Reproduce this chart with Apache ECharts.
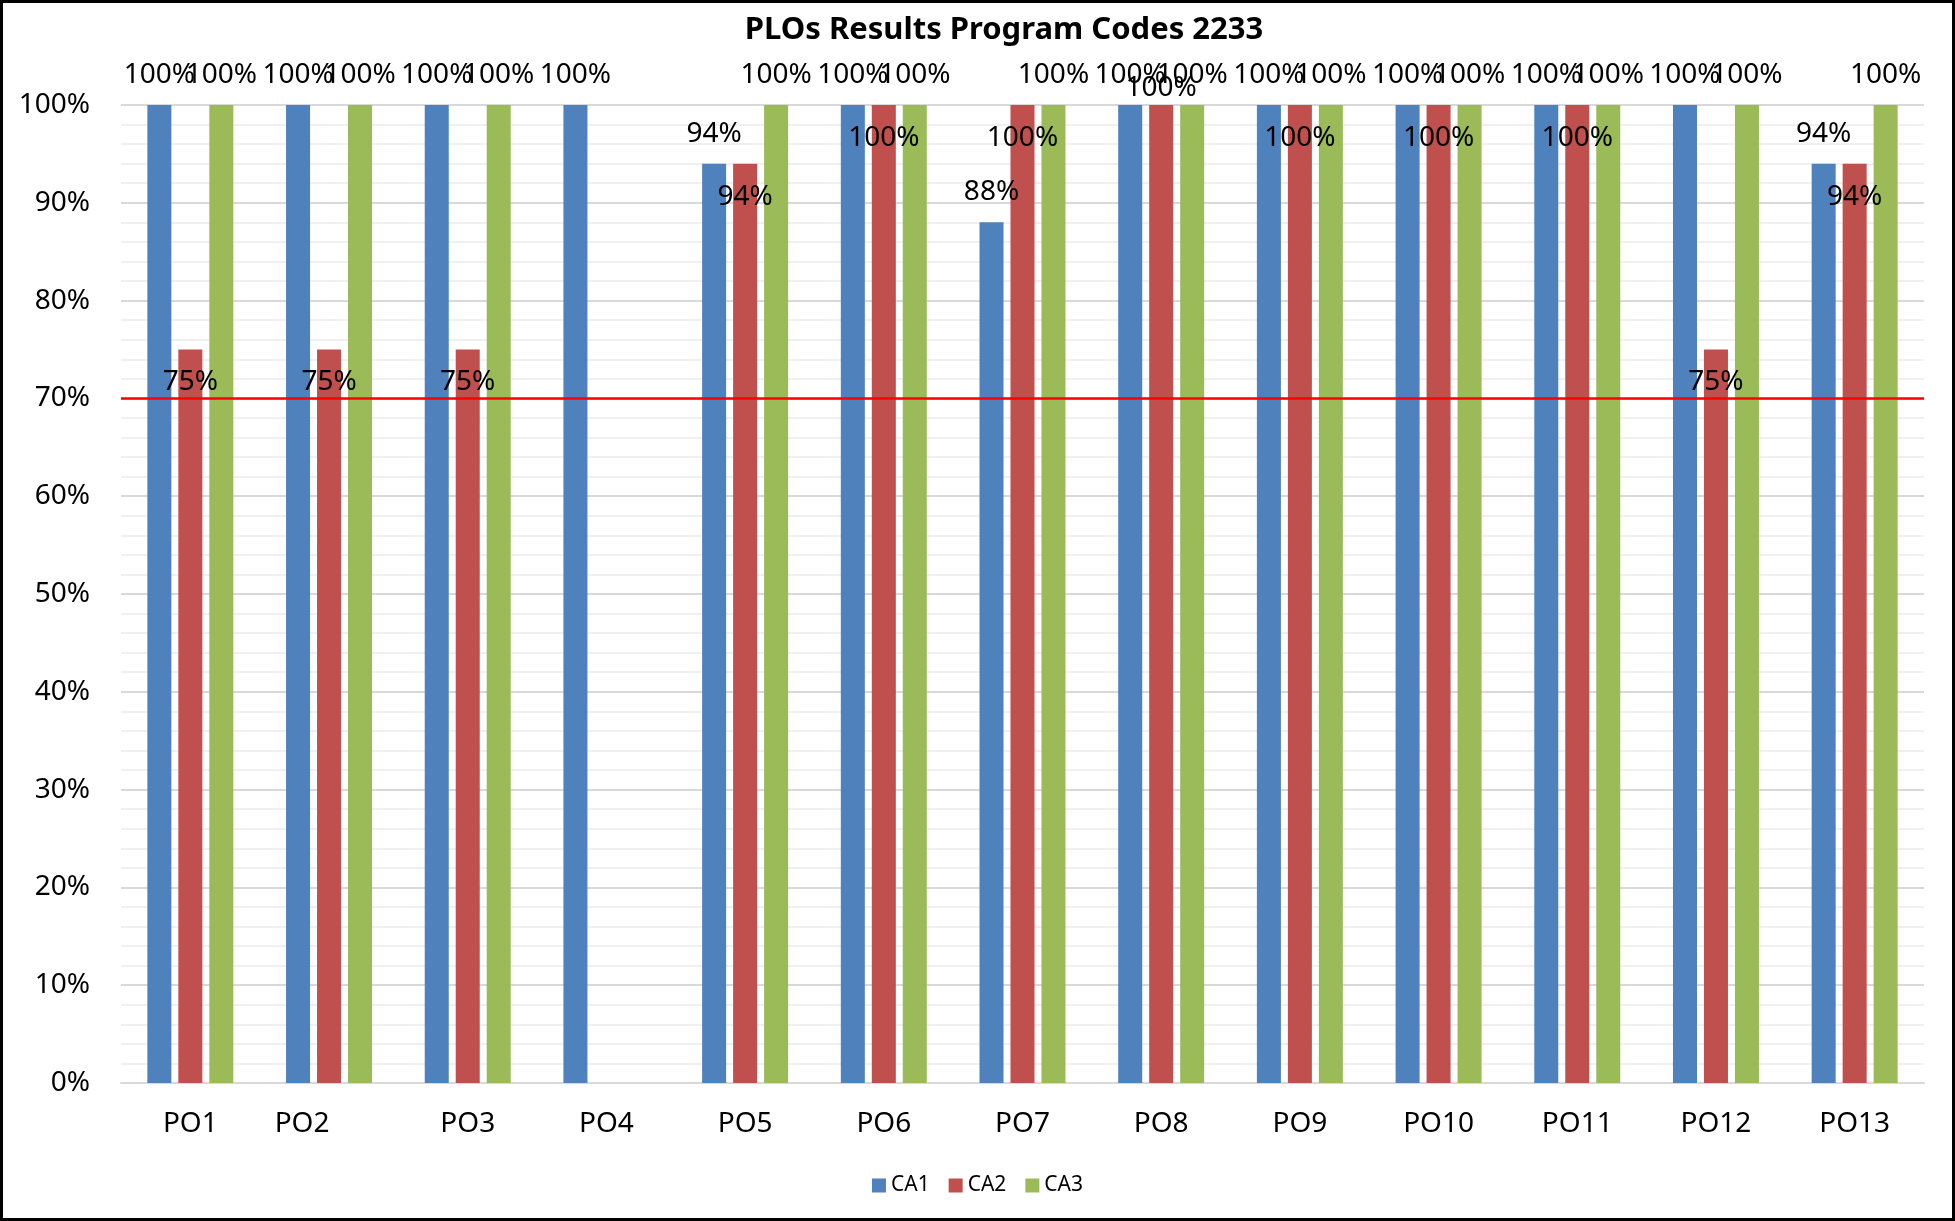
<!DOCTYPE html>
<html>
<head>
<meta charset="utf-8">
<title>PLOs Results Program Codes 2233</title>
<script src="https://cdn.jsdelivr.net/npm/echarts@6/dist/echarts.min.js"></script>
<style>
  html, body { margin: 0; padding: 0; background: #fff; }
  #chart { width: 1955px; height: 1221px; }
</style>
</head>
<body>
<div id="chart"></div>
<script>
// values (percent)
var categories = ['PO1', 'PO2', 'PO3', 'PO4', 'PO5', 'PO6', 'PO7', 'PO8', 'PO9', 'PO10', 'PO11', 'PO12', 'PO13']
var ca1 = [100, 100, 100, 100, 94, 100, 88, 100, 100, 100, 100, 100, 94]
var ca2 = [75, 75, 75, '-', 94, 100, 100, 100, 100, 100, 100, 75, 94]
var ca3 = [100, 100, 100, '-', 100, 100, 100, 100, 100, 100, 100, 100, 100]
var threshold = 70

var FONT = '"Noto Sans", "Open Sans", sans-serif'
var chart = echarts.init(document.getElementById('chart'))

var labelBase = {
  show: true,
  formatter: '{c}%',
  color: '#000',
  fontFamily: FONT,
  fontSize: 28,
  lineHeight: 30
}

// the CA2 label on PO8 sits above its bar in the original, the rest sit inside
var ca2Data = ca2.map(function (v, i) {
  if (i === 7) return { value: v, label: { position: 'top', distance: 2 } }
  return v
})

var option = {
  animation: false,
  backgroundColor: '#fff',
  title: {
    text: 'PLOs Results Program Codes 2233',
    left: 1004,
    top: 15,
    padding: 0,
    textAlign: 'center',
    textStyle: { fontFamily: FONT, fontSize: 31, fontWeight: 'bold', color: '#000' }
  },
  legend: {
    data: ['CA1', 'CA2', 'CA3'],
    left: 'center',
    top: 1170,
    icon: 'rect',
    itemWidth: 14,
    itemHeight: 14,
    itemGap: 19,
    textStyle: { fontFamily: FONT, fontSize: 21, color: '#000' }
  },
  grid: { left: 121, right: 31, top: 105, bottom: 138 },
  xAxis: {
    type: 'category',
    data: categories,
    axisLine: { show: true, lineStyle: { color: '#D9D9D9', width: 2 } },
    axisTick: { show: false },
    axisLabel: {
      interval: 0,
      margin: 27,
      color: '#000',
      fontFamily: FONT,
      fontSize: 28,
      formatter: function (v) {
        return v === 'PO2' ? '{shift|' + v + '}' : v
      },
      rich: {
        shift: { fontFamily: FONT, fontSize: 28, color: '#000', padding: [0, 54, 0, 0] }
      }
    }
  },
  yAxis: {
    type: 'value',
    min: 0,
    max: 100,
    interval: 10,
    axisLine: { show: false },
    axisTick: { show: false },
    axisLabel: {
      formatter: '{value}%',
      margin: 31,
      color: '#000',
      fontFamily: FONT,
      fontSize: 28
    },
    splitLine: { show: true, lineStyle: { color: '#D9D9D9', width: 2 } },
    minorTick: { show: false, splitNumber: 5 },
    minorSplitLine: { show: true, lineStyle: { color: '#F0F0F0', width: 2 } }
  },
  series: [
    {
      name: 'CA1',
      type: 'bar',
      data: ca1,
      barGap: '29%',
      barCategoryGap: '38%',
      itemStyle: { color: '#4F81BD' },
      label: Object.assign({}, labelBase, { position: 'top', distance: 15 }),
      markLine: {
        silent: true,
        symbol: 'none',
        label: { show: false },
        lineStyle: { color: '#FF0000', width: 2.5, type: 'solid' },
        data: [{ yAxis: threshold }]
      }
    },
    {
      name: 'CA2',
      type: 'bar',
      data: ca2Data,
      itemStyle: { color: '#C0504D' },
      label: Object.assign({}, labelBase, { position: 'insideTop', distance: 18 })
    },
    {
      name: 'CA3',
      type: 'bar',
      data: ca3,
      itemStyle: { color: '#9BBB59' },
      label: Object.assign({}, labelBase, { position: 'top', distance: 15 })
    }
  ],
  graphic: [
    {
      type: 'rect',
      silent: true,
      shape: { x: 1.5, y: 1.5, width: 1952, height: 1218 },
      style: { fill: 'none', stroke: '#000', lineWidth: 3 }
    }
  ]
}

chart.setOption(option)
</script>
</body>
</html>
